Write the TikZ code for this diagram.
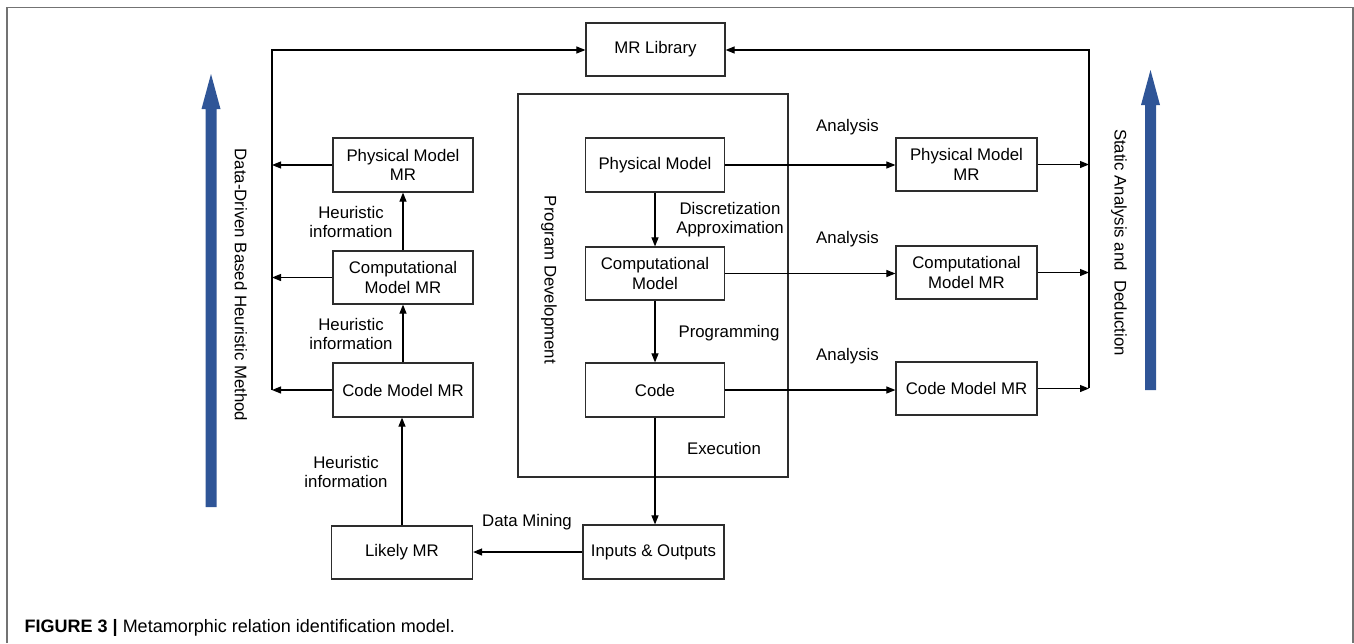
\documentclass[tikz,border=0pt]{standalone}
\usepackage{fontspec}
\setmainfont{Liberation Sans}
\usetikzlibrary{arrows.meta}
\definecolor{arrblue}{RGB}{47,85,151}
\definecolor{linegray}{RGB}{45,45,45}
\definecolor{framegray}{RGB}{115,115,115}
\begin{document}
\begin{tikzpicture}[x=1pt,y=-1pt,
  box/.style={draw=linegray, line width=1.2pt, minimum width=139pt, minimum height=53pt, inner sep=0pt, align=center, font=\fontsize{16.8}{19.3}\selectfont},
  lbl/.style={align=center, inner sep=0pt, font=\fontsize{16.8}{19.3}\selectfont},
  arr/.style={draw=black, line width=1.1pt, -{Triangle[length=9pt,width=7pt]}},
  ln/.style={draw=black, line width=1.1pt}]
\useasboundingbox (0,0) rectangle (1354,643);
% frame
\draw[framegray, line width=1.5pt] (7,643) -- (7,7.5) -- (1353,7.5) -- (1353,643);

% blue arrows
\fill[arrblue] (205.5,507) -- (205.5,109) -- (201.5,109) -- (211,74) -- (220.5,109) -- (216.5,109) -- (216.5,507) -- cycle;
\fill[arrblue] (1145,390) -- (1145,105) -- (1141,105) -- (1150.5,70) -- (1160,105) -- (1156,105) -- (1156,390) -- cycle;

\node[lbl, rotate=-90] (ddl) at (241,285) {Data-Driven Based Heuristic Method};
\node[lbl, rotate=-90] (sad) at (1119,242.5) {Static Analysis and\ \ Deduction};

% program development box
\node[draw=linegray, line width=1.2pt, minimum width=270pt, minimum height=383pt, inner sep=0pt] (pd) at (653,285.5) {};
\node[lbl, rotate=-90] (pdl) at (549,280) {Program Development};

% boxes
\node[box] (lib) at (655.5,49.5) {MR Library};
\node[box, minimum height=54pt] (pm) at (655,165) {Physical Model};
\node[box] (cm) at (655,273.5) {Computational\\Model};
\node[box, minimum height=54pt] (code) at (655,390) {Code};
\node[box, minimum width=141pt, minimum height=54pt] (io) at (653.5,552) {Inputs \& Outputs};

\node[box, minimum width=140pt, minimum height=54pt] (pmL) at (403,165) {Physical Model\\MR};
\node[box, minimum width=140pt] (cmL) at (403,277.5) {Computational\\Model MR};
\node[box, minimum width=140pt, minimum height=54pt] (codeL) at (403,390) {Code Model MR};
\node[box, minimum width=141pt] (lik) at (402,552.5) {Likely MR};

\node[box, minimum width=141pt] (pmR) at (966.5,164.5) {Physical Model\\MR};
\node[box, minimum width=141pt] (cmR) at (966.5,272.5) {Computational\\Model MR};
\node[box, minimum width=141pt] (codeR) at (966.5,388.5) {Code Model MR};

% coordinates of the side lines
\coordinate (tlL) at (272,50);
\coordinate (blL) at (272,390);
\coordinate (trR) at (1089,50);
\coordinate (brR) at (1089,388);

% side lines to MR Library
\draw[arr] (blL) -- (tlL) -- (tlL -| lib.west);
\draw[arr] (brR) -- (trR) -- (trR -| lib.east);

% left column arrows to the side line
\draw[arr] (pmL.west) -- (pmL.west -| tlL);
\draw[arr] (cmL.west) -- (cmL.west -| tlL);
\draw[arr] (codeL.west) -- (codeL.west -| tlL);

% left column upward arrows
\draw[arr] (codeL.north) -- (cmL.south);
\draw[arr] (cmL.north) -- (pmL.south);
\draw[arr] (lik.north) -- (lik.north |- codeL.south);

% center column downward arrows
\draw[arr] (pm.south) -- (cm.north);
\draw[arr] (cm.south) -- (code.north);
\draw[arr] (code.south) -- (code.south |- io.north);
\draw[arr] (io.west) -- (io.west -| lik.east);

% analysis arrows
\draw[arr] (pm.east) -- (pm.east -| pmR.west);
\draw[arr] (cm.east) -- (cm.east -| cmR.west);
\draw[arr] (code.east) -- (code.east -| codeR.west);
\draw[arr] (pmR.east) -- (pmR.east -| trR);
\draw[arr] (cmR.east) -- (cmR.east -| trR);
\draw[arr] (codeR.east) -- (codeR.east -| trR);

% labels
\node[lbl] (h1) at (351,222) {Heuristic\\information};
\node[lbl] (h2) at (351,334) {Heuristic\\information};
\node[lbl] (h3) at (346,472) {Heuristic\\information};
\node[lbl] (disc) at (730,220) {Discretization\\Approximation};
\node[lbl] (prog) at (729,333) {Programming};
\node[lbl] (exec) at (724,448) {Execution};
\node[lbl] (an1) at (847.5,127) {Analysis};
\node[lbl] (an2) at (847.5,239) {Analysis};
\node[lbl] (an3) at (847.5,356) {Analysis};
\node[lbl] (dm) at (527,522) {Data Mining};

% caption
\node[anchor=base west, inner sep=0pt, font=\fontsize{18}{21}\selectfont] (cap) at (24.5,632) {\textbf{FIGURE 3 |} Metamorphic relation identification model.};
\end{tikzpicture}
\end{document}
